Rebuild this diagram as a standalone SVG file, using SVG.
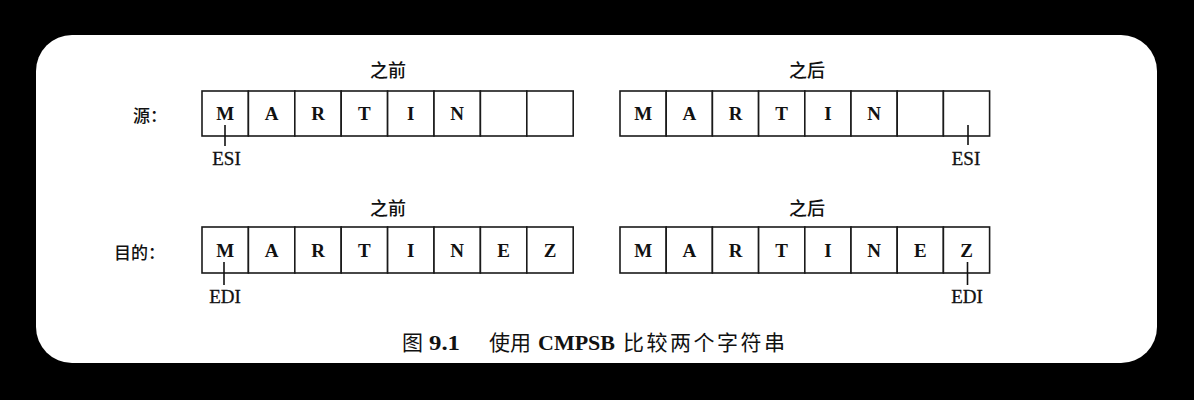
<svg xmlns="http://www.w3.org/2000/svg" width="1194" height="400" viewBox="0 0 1194 400">
  <style>
    .cell { fill: #ffffff; stroke: #1a1a1a; stroke-width: 1.6; }
    .ch { font-family: "Liberation Serif", "Times New Roman", serif; font-size: 19px; font-weight: bold; fill: #111; text-anchor: middle; }
    .reg { font-family: "Liberation Serif", "Times New Roman", serif; font-size: 19px; fill: #111; text-anchor: middle; stroke: #111; stroke-width: 0.3; }
    .cjk { font-family: "Noto Sans CJK SC", "Noto Sans", sans-serif; fill: #111; }
    .hdr { font-size: 18px; text-anchor: middle; font-weight: 500; }
    .side { font-size: 17px; font-weight: 500; }
    .tick { stroke: #111; stroke-width: 1.6; fill: none; }
    .cap { font-size: 21px; font-weight: normal; }
    .capl { font-family: "Liberation Serif", "Times New Roman", serif; font-size: 22px; font-weight: bold; fill: #111; }
  </style>
  <rect x="0" y="0" width="1194" height="400" fill="#000000"/>
  <rect x="36" y="35" width="1121" height="328" rx="36" ry="36" fill="#ffffff"/>

  <!-- row labels -->
  <text id="label-src" class="cjk side" x="133" y="122">源：</text>
  <text id="label-dst" class="cjk side" x="114" y="259">目的：</text>

  <!-- source before -->
  <g id="src-before">
    <text class="cjk hdr" x="388" y="77">之前</text>
    <rect class="cell" x="202" y="91" width="46.4" height="45"/>
    <rect class="cell" x="248.4" y="91" width="46.4" height="45"/>
    <rect class="cell" x="294.8" y="91" width="46.4" height="45"/>
    <rect class="cell" x="341.2" y="91" width="46.4" height="45"/>
    <rect class="cell" x="387.6" y="91" width="46.4" height="45"/>
    <rect class="cell" x="434" y="91" width="46.4" height="45"/>
    <rect class="cell" x="480.4" y="91" width="46.4" height="45"/>
    <rect class="cell" x="526.8" y="91" width="46.4" height="45"/>
    <text class="ch" x="225.2" y="120">M</text>
    <text class="ch" x="271.6" y="120">A</text>
    <text class="ch" x="318" y="120">R</text>
    <text class="ch" x="364.4" y="120">T</text>
    <text class="ch" x="410.8" y="120">I</text>
    <text class="ch" x="457.2" y="120">N</text>
    <text class="reg" x="226.5" y="165">ESI</text>
  </g>

  <!-- source after -->
  <g id="src-after">
    <text class="cjk hdr" x="807" y="77">之后</text>
    <rect class="cell" x="620" y="91" width="46.2" height="45"/>
    <rect class="cell" x="666.2" y="91" width="46.2" height="45"/>
    <rect class="cell" x="712.4" y="91" width="46.2" height="45"/>
    <rect class="cell" x="758.6" y="91" width="46.2" height="45"/>
    <rect class="cell" x="804.8" y="91" width="46.2" height="45"/>
    <rect class="cell" x="851" y="91" width="46.2" height="45"/>
    <rect class="cell" x="897.2" y="91" width="46.2" height="45"/>
    <rect class="cell" x="943.4" y="91" width="46.2" height="45"/>
    <text class="ch" x="643.1" y="120">M</text>
    <text class="ch" x="689.3" y="120">A</text>
    <text class="ch" x="735.5" y="120">R</text>
    <text class="ch" x="781.7" y="120">T</text>
    <text class="ch" x="827.9" y="120">I</text>
    <text class="ch" x="874.1" y="120">N</text>
    <text class="reg" x="966" y="165">ESI</text>
  </g>

  <!-- destination before -->
  <g id="dst-before">
    <text class="cjk hdr" x="388" y="215">之前</text>
    <rect class="cell" x="202" y="227" width="46.4" height="46"/>
    <rect class="cell" x="248.4" y="227" width="46.4" height="46"/>
    <rect class="cell" x="294.8" y="227" width="46.4" height="46"/>
    <rect class="cell" x="341.2" y="227" width="46.4" height="46"/>
    <rect class="cell" x="387.6" y="227" width="46.4" height="46"/>
    <rect class="cell" x="434" y="227" width="46.4" height="46"/>
    <rect class="cell" x="480.4" y="227" width="46.4" height="46"/>
    <rect class="cell" x="526.8" y="227" width="46.4" height="46"/>
    <text class="ch" x="225.2" y="257">M</text>
    <text class="ch" x="271.6" y="257">A</text>
    <text class="ch" x="318" y="257">R</text>
    <text class="ch" x="364.4" y="257">T</text>
    <text class="ch" x="410.8" y="257">I</text>
    <text class="ch" x="457.2" y="257">N</text>
    <text class="ch" x="503.6" y="257">E</text>
    <text class="ch" x="550" y="257">Z</text>
    <text class="reg" x="225" y="303">EDI</text>
  </g>

  <!-- destination after -->
  <g id="dst-after">
    <text class="cjk hdr" x="807" y="215">之后</text>
    <rect class="cell" x="620" y="227" width="46.2" height="46"/>
    <rect class="cell" x="666.2" y="227" width="46.2" height="46"/>
    <rect class="cell" x="712.4" y="227" width="46.2" height="46"/>
    <rect class="cell" x="758.6" y="227" width="46.2" height="46"/>
    <rect class="cell" x="804.8" y="227" width="46.2" height="46"/>
    <rect class="cell" x="851" y="227" width="46.2" height="46"/>
    <rect class="cell" x="897.2" y="227" width="46.2" height="46"/>
    <rect class="cell" x="943.4" y="227" width="46.2" height="46"/>
    <text class="ch" x="643.1" y="257">M</text>
    <text class="ch" x="689.3" y="257">A</text>
    <text class="ch" x="735.5" y="257">R</text>
    <text class="ch" x="781.7" y="257">T</text>
    <text class="ch" x="827.9" y="257">I</text>
    <text class="ch" x="874.1" y="257">N</text>
    <text class="ch" x="920.3" y="257">E</text>
    <text class="ch" x="966.5" y="257">Z</text>
    <text class="reg" x="967" y="303">EDI</text>
  </g>

  <!-- pointer ticks -->
  <g id="connectors">
    <line class="tick" x1="225" y1="125" x2="225" y2="146"/>
    <line class="tick" x1="968" y1="125" x2="968" y2="145"/>
    <line class="tick" x1="224" y1="262" x2="224" y2="285"/>
    <line class="tick" x1="967.5" y1="262" x2="967.5" y2="285"/>
  </g>

  <!-- caption -->
  <g id="caption">
    <text class="cjk cap" x="402" y="350">图</text>
    <text class="capl" x="429" y="350" textLength="31" lengthAdjust="spacingAndGlyphs">9.1</text>
    <text class="cjk cap" x="489" y="350">使用</text>
    <text class="capl" x="538" y="350" textLength="77" lengthAdjust="spacingAndGlyphs">CMPSB</text>
    <text class="cjk cap" x="623" y="350" textLength="162">比较两个字符串</text>
  </g>
</svg>
